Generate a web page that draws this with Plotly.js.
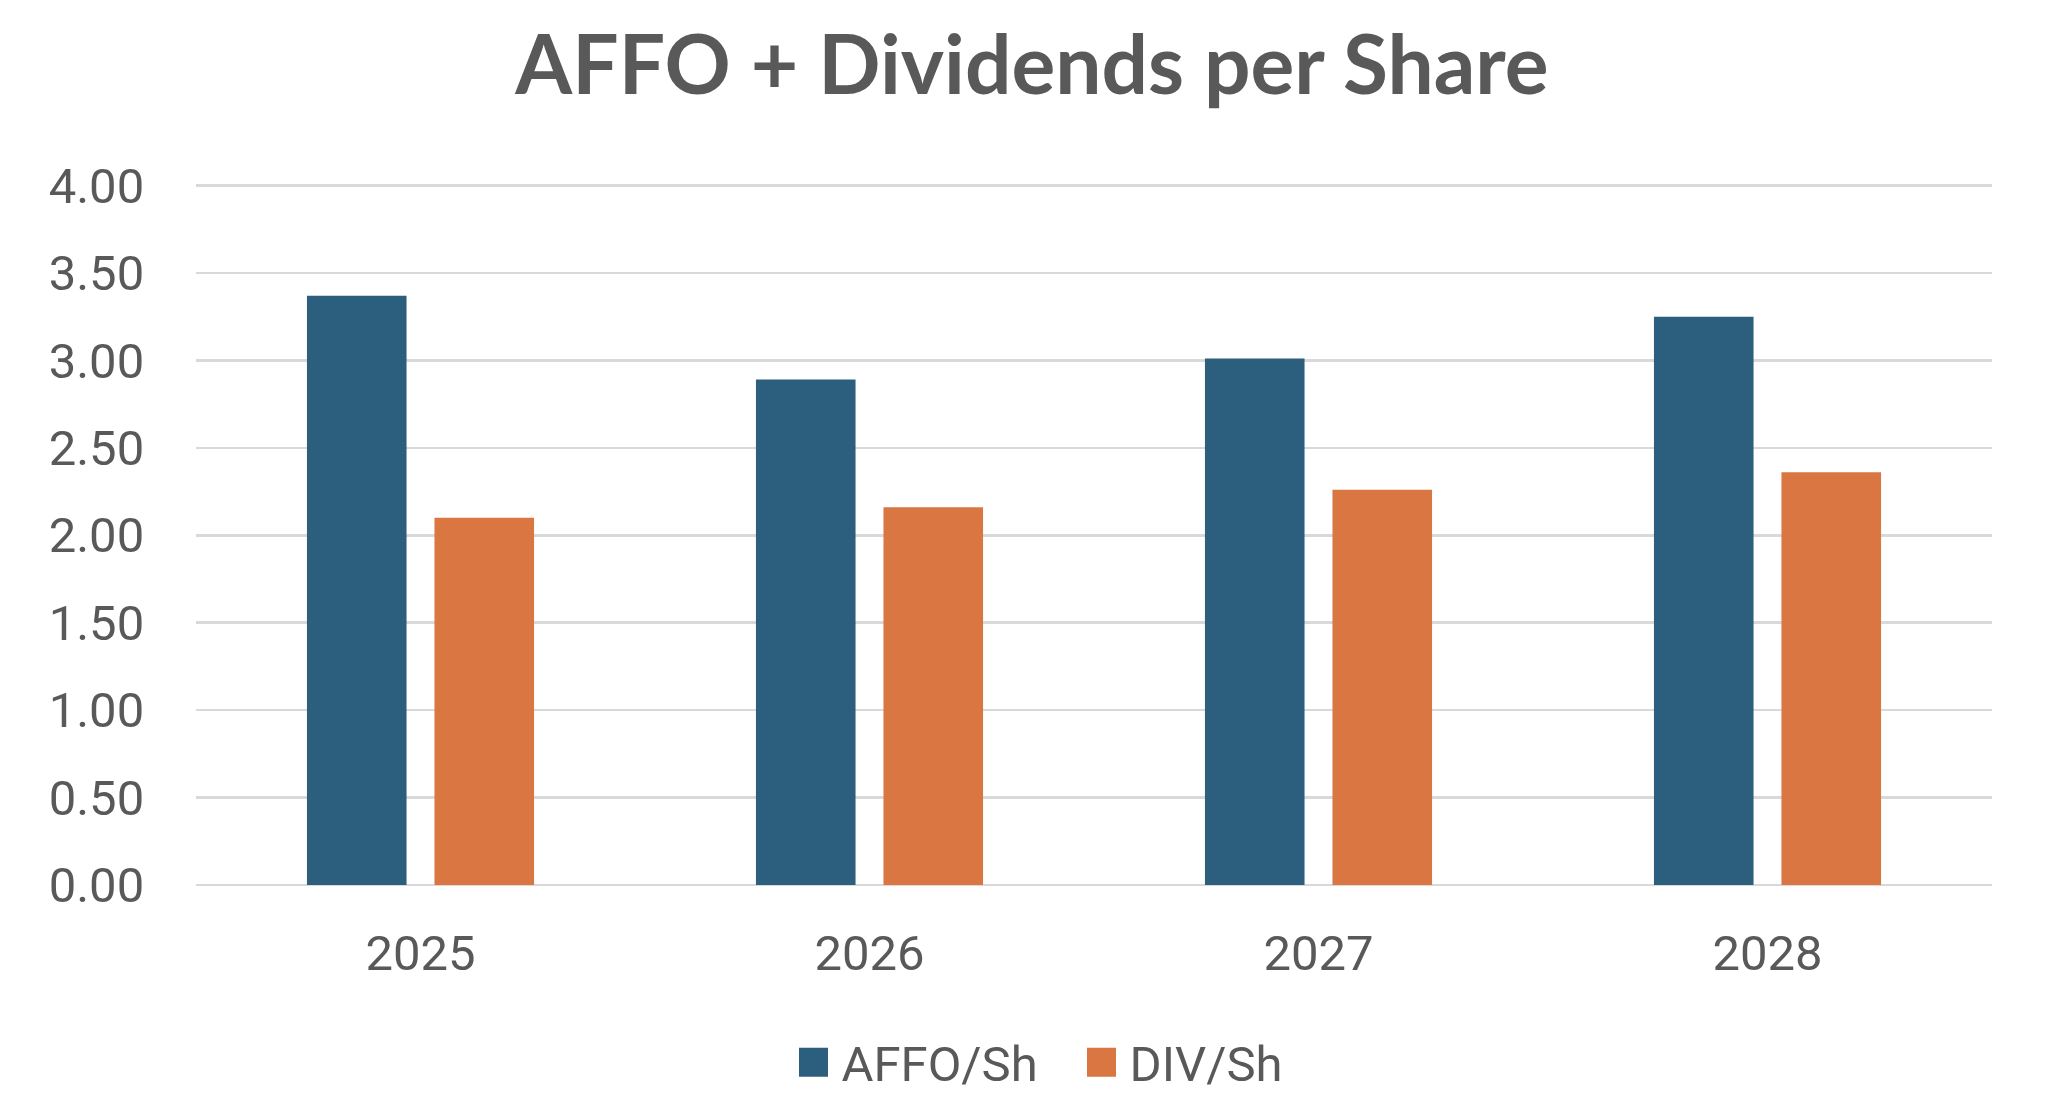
<!DOCTYPE html>
<html>
<head>
<meta charset="utf-8">
<script src="https://cdn.plot.ly/plotly-3.0.1.min.js"></script>
<style>
html,body{margin:0;padding:0;background:#fff;}
#chart{width:2066px;height:1108px;}
</style>
</head>
<body>
<div id="chart"></div>
<script>
const years = ['2025', '2026', '2027', '2028'];
const affoPerShare = [3.37, 2.89, 3.01, 3.25];
const divPerShare = [2.10, 2.16, 2.26, 2.36];
const yTicks = [0, 0.5, 1, 1.5, 2, 2.5, 3, 3.5, 4];

const textColor = '#595959';
const fontFamily = 'Roboto, "Liberation Sans", Arial, sans-serif';

const traces = [
  {type: 'bar', name: 'AFFO/Sh', x: years, y: affoPerShare,
   marker: {color: '#2C5E7E'}},
  {type: 'bar', name: 'DIV/Sh', x: years, y: divPerShare,
   marker: {color: '#D97641'}}
];

const layout = {
  width: 2066, height: 1108,
  margin: {l: 196, r: 74, t: 182, b: 223},
  paper_bgcolor: '#ffffff', plot_bgcolor: '#ffffff',
  font: {family: fontFamily, color: textColor, size: 49},
  title: {text: '<b>AFFO + Dividends per Share</b>', x: 0.4995, xref: 'container', xanchor: 'center',
          y: 0.9415, yref: 'container', yanchor: 'middle',
          font: {family: 'Lato, "Open Sans", sans-serif', size: 82, color: textColor}},
  barmode: 'group', bargap: 0.432, bargroupgap: 0.219,
  xaxis: {type: 'category', showgrid: false, showline: false, zeroline: false,
          ticks: 'outside', ticklen: 25, tickcolor: 'rgba(0,0,0,0)',
          tickfont: {size: 49, color: textColor, family: fontFamily}},
  yaxis: {range: [0, 4.02], tickvals: yTicks, tickformat: '.2f',
          showgrid: true, gridcolor: '#D9D9D9', gridwidth: 2.5,
          zeroline: true, zerolinecolor: '#D9D9D9', zerolinewidth: 2.5,
          showline: false, ticks: 'outside', ticklen: 41, tickcolor: 'rgba(0,0,0,0)',
          tickfont: {size: 49, color: textColor, family: fontFamily}},
  showlegend: true,
  legend: {orientation: 'h', xref: 'container', yref: 'container', x: 0.5196, xanchor: 'center',
           y: 0.0412, yanchor: 'middle', font: {size: 49, color: textColor, family: fontFamily},
           itemwidth: 46, entrywidth: 227, entrywidthmode: 'pixels', traceorder: 'normal'},
  hovermode: false
};

Plotly.newPlot('chart', traces, layout, {displayModeBar: false, staticPlot: true}).then(function () {
  document.querySelectorAll('.legend .legendpoints path').forEach(function (p) {
    p.setAttribute('d', 'M14.5,14.5H-14.5V-14.5H14.5Z');
  });
});
</script>
</body>
</html>
